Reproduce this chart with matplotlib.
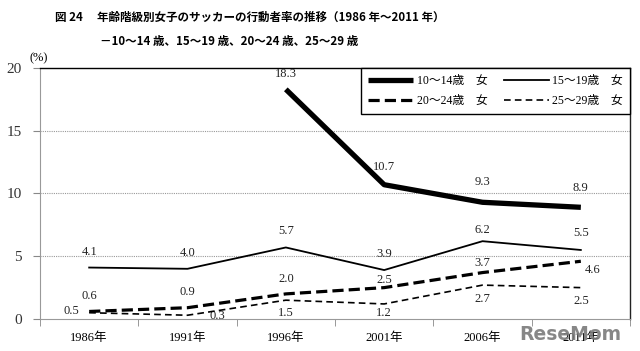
import matplotlib.pyplot as plt
import numpy as np

years = ['1986年', '1991年', '1996年', '2001年', '2006年', '2011年']
age_10_14 = [np.nan, np.nan, 18.3, 10.7, 9.3, 8.9]
age_15_19 = [4.1, 4.0, 5.7, 3.9, 6.2, 5.5]
age_20_24 = [0.6, 0.9, 2.0, 2.5, 3.7, 4.6]
age_25_29 = [0.5, 0.3, 1.5, 1.2, 2.7, 2.5]
series_names = ['10～14歳　女', '15～19歳　女', '20～24歳　女', '25～29歳　女']

# label offsets in pixels (dx, dy)
off_10_14 = [None, None, (0, 15), (0, 18), (0, 20), (0, 19)]
off_15_19 = [(0, 16), (0, 16), (0, 16), (0, 16), (0, 11), (0, 17)]
off_20_24 = [(0, 15), (0, 16), (0, 15), (0, 8), (0, 10), (12, -9)]
off_25_29 = [(-18, 2), (30, -1), (0, -13), (0, -9), (0, -14), (0, -13)]

serif = ['Liberation Serif', 'Noto Sans CJK JP']
plt.rcParams['font.family'] = serif

fig = plt.figure(figsize=(6.4, 3.51), dpi=100)
ax = fig.add_axes([40 / 640, 1 - 319 / 351, 590 / 640, 251 / 351])

x = np.arange(len(years))
l1, = ax.plot(x, age_10_14, color='black', lw=3.8, solid_capstyle='butt', label=series_names[0], zorder=4)
l2, = ax.plot(x, age_15_19, color='black', lw=1.3, label=series_names[1], zorder=4)
l3, = ax.plot(x, age_20_24, color='black', lw=2.3, dashes=(3.5, 1.6), label=series_names[2], zorder=4)
l4, = ax.plot(x, age_25_29, color='black', lw=1.2, dashes=(4, 2.5), label=series_names[3], zorder=4)

for vals, offs in [(age_10_14, off_10_14), (age_15_19, off_15_19),
                   (age_20_24, off_20_24), (age_25_29, off_25_29)]:
    for i, v in enumerate(vals):
        if np.isnan(v):
            continue
        ax.annotate(f'{v:.1f}', (x[i], v), xytext=offs[i], textcoords='offset pixels',
                    ha='center', va='center', fontsize=9, color='#222222')

ax.set_xlim(-0.5, 5.5)
ax.set_ylim(0, 20)
ax.set_yticks([0, 5, 10, 15, 20])
ax.set_yticklabels(['0', '5', '10', '15', '20'], fontsize=11, color='#333333')
ax.set_xticks(x)
ax.set_xticklabels(years, fontsize=9)
ax.set_xticks(np.arange(-0.5, 6, 1), minor=True)
ax.tick_params(axis='x', which='major', length=0, pad=9)
ax.tick_params(axis='x', which='minor', length=5, color='#888888', direction='out')
ax.tick_params(axis='y', length=5, color='#888888', pad=8)

for yv in [5, 10, 15]:
    ax.axhline(yv, color='#999999', lw=0.8, ls=(0, (1, 1)), zorder=1)

ax.spines['top'].set_color('black')
ax.spines['top'].set_linewidth(1.0)
ax.spines['right'].set_color('#222222')
ax.spines['right'].set_linewidth(1.0)
for s in ['left', 'bottom']:
    ax.spines[s].set_color('#999999')
    ax.spines[s].set_linewidth(0.8)
    ax.spines[s].set_linestyle((0, (1, 1)))

# column-wise fill: put 10-14 and 15-19 on the first row
leg = ax.legend([l1, l3, l2, l4], [series_names[0], series_names[2], series_names[1], series_names[3]],
                loc='upper right', ncol=2, fontsize=8.5, frameon=True, fancybox=False,
                edgecolor='black', handlelength=3.8, handletextpad=0.3, columnspacing=1.4,
                borderaxespad=0, borderpad=0.6, labelspacing=0.7)
leg.get_frame().set_linewidth(1.0)
leg.set_zorder(5)
leg.get_frame().set_alpha(1)

fig.text(30 / 640, 1 - 58 / 351, '(%)', fontsize=9, va='center', ha='left')

gothic = ['Noto Sans CJK JP']
fig.text(55 / 640, 1 - 17 / 351, '図 24　 年齢階級別女子のサッカーの行動者率の推移（1986 年～2011 年）',
         fontsize=8.3, fontweight='bold', family=gothic, va='center', ha='left')
fig.text(100 / 640, 1 - 42 / 351, '－10～14 歳、15～19 歳、20～24 歳、25～29 歳',
         fontsize=8.3, fontweight='bold', family=gothic, va='center', ha='left')

fig.text(570 / 640, 1 - 335 / 351, 'ReseMom', fontsize=13.5, fontweight='bold', color='#7a7a7a',
         family=['DejaVu Sans'], ha='center', va='center', alpha=0.9, zorder=10)

fig.savefig('out.png', dpi=100)
